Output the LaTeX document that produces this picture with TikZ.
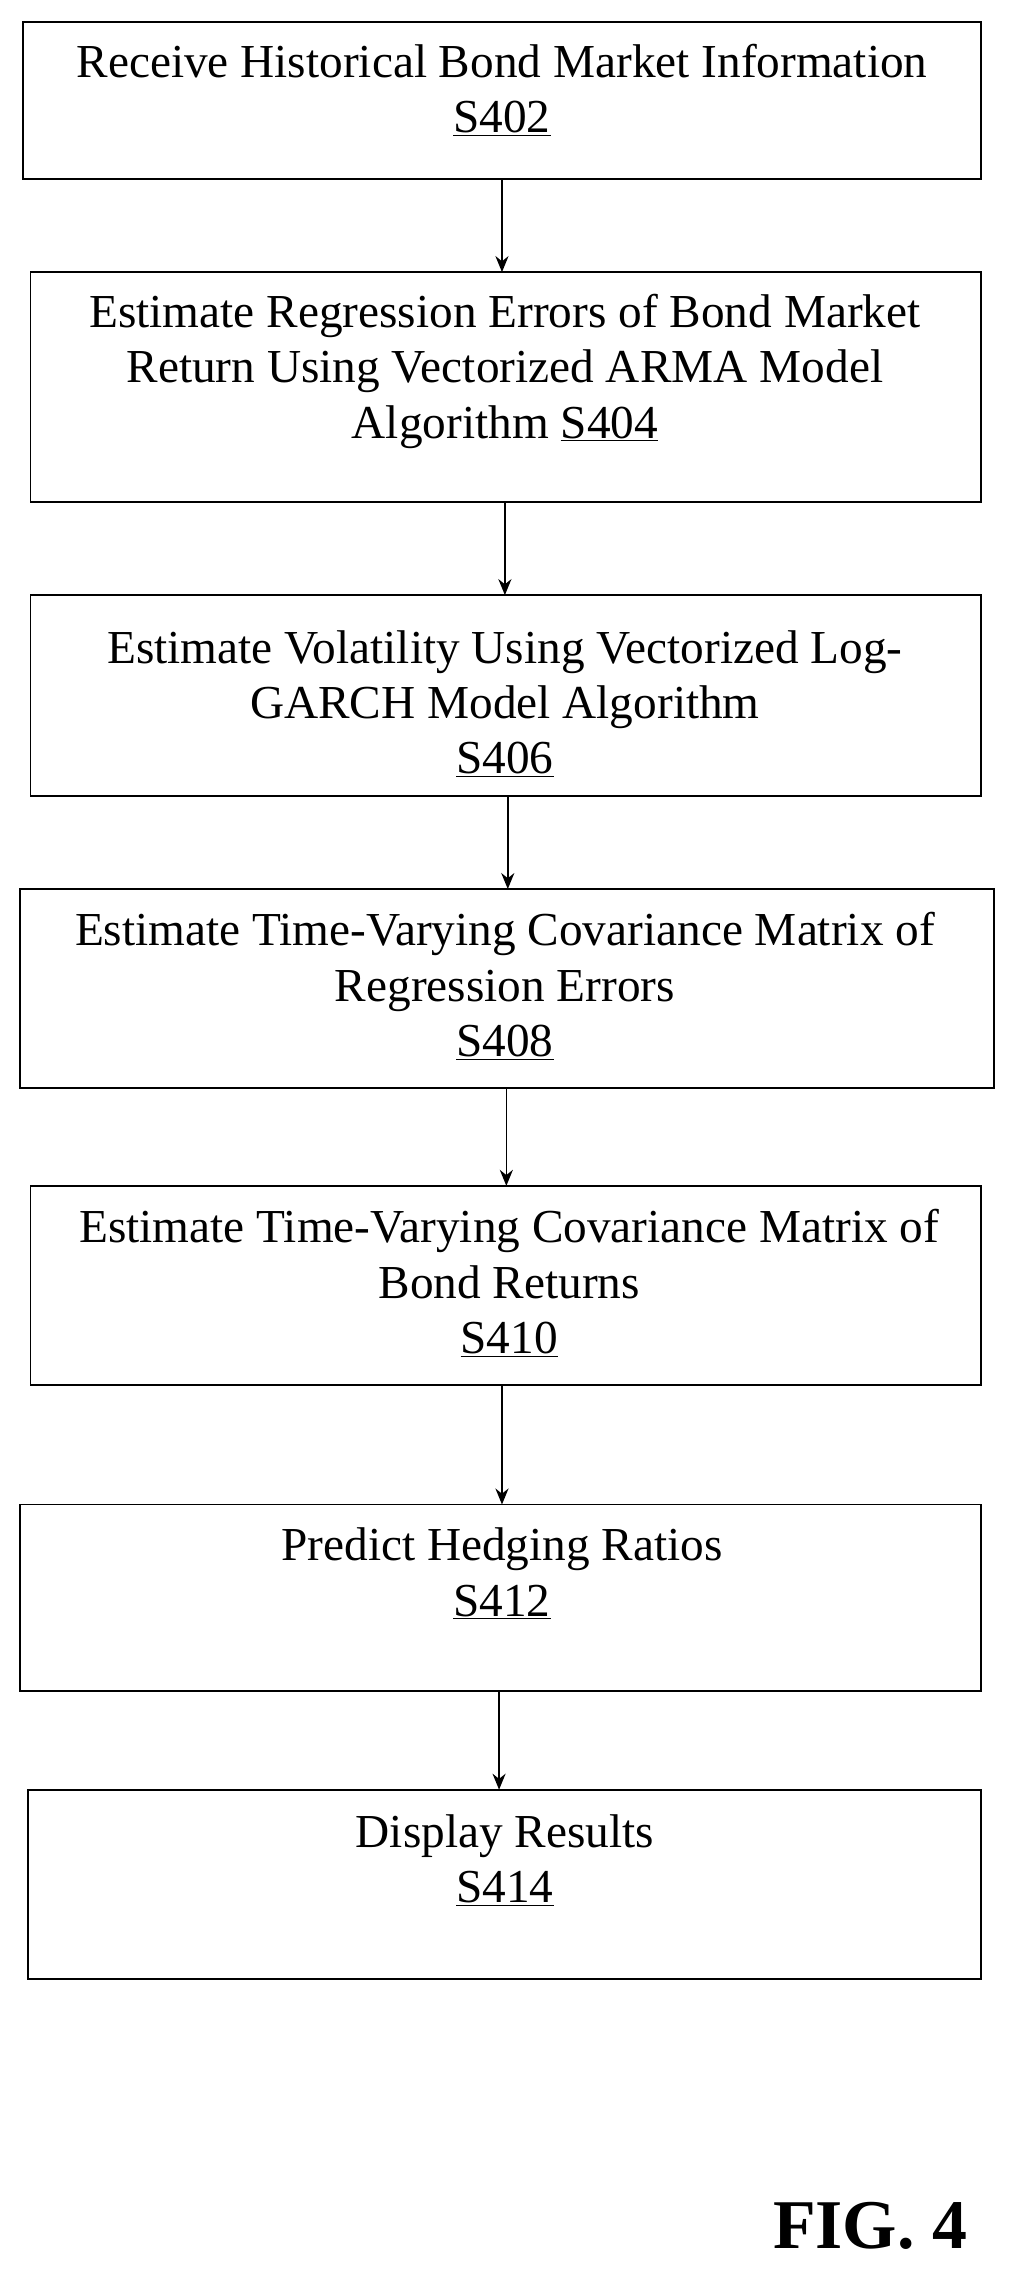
\documentclass[tikz,border=0pt]{standalone}
\usepackage{fontspec}
\setmainfont{Liberation Serif}
\usetikzlibrary{arrows.meta}
\begin{document}
\begin{tikzpicture}[x=1pt,y=-1pt,
  box/.style={draw,line width=1.2pt},
  txt/.style={align=center,font=\fontsize{32.5}{38}\selectfont,inner sep=0pt,anchor=north},
  arr/.style={-{Stealth[length=11pt,width=9pt]},line width=1.1pt}]
\useasboundingbox (0,0) rectangle (695,1567);
\draw[box] (16,15) rectangle (674,123);
\draw[box] (21,187) rectangle (674,345);
\draw[box] (21,409) rectangle (674,547);
\draw[box] (14,611) rectangle (683,748);
\draw[box] (21,815) rectangle (674,952);
\draw[box] (14,1034) rectangle (674,1162);
\draw[box] (19,1230) rectangle (674,1360);
\node[txt] (t1) at (345,30) {Receive Historical Bond Market Information\\\underline{S402}};
\node[txt] (t2) at (347,202) {Estimate Regression Errors of Bond Market\\Return Using Vectorized ARMA Model\\Algorithm \underline{S404}};
\node[txt] (t3) at (347,433) {Estimate Volatility Using Vectorized Log-\\GARCH Model Algorithm\\\underline{S406}};
\node[txt] (t4) at (347,627) {Estimate Time-Varying Covariance Matrix of\\Regression Errors\\\underline{S408}};
\node[txt] (t5) at (350,831) {Estimate Time-Varying Covariance Matrix of\\Bond Returns\\\underline{S410}};
\node[txt] (t6) at (345,1050) {Predict Hedging Ratios\\\underline{S412}};
\node[txt] (t7) at (347,1247) {Display Results\\\underline{S414}};
\node[font=\fontsize{48}{50}\selectfont\bfseries] (fig) at (598,1530) {FIG. 4};
\coordinate (a1) at (345,123); \coordinate (b1) at (345,187);
\coordinate (a2) at (347,345); \coordinate (b2) at (347,409);
\coordinate (a3) at (349,547); \coordinate (b3) at (349,611);
\coordinate (a4) at (348,748); \coordinate (b4) at (348,815);
\coordinate (a5) at (345,952); \coordinate (b5) at (345,1034);
\coordinate (a6) at (343,1162); \coordinate (b6) at (343,1230);
\foreach \i in {1,...,6} \draw[arr] (a\i) -- (b\i);
\end{tikzpicture}
\end{document}
